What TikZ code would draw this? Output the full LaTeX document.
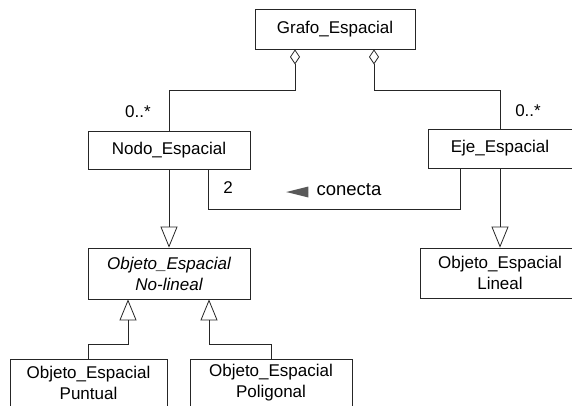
\documentclass[tikz,border=0pt]{standalone}
\usepackage{fontspec}
\setmainfont{Liberation Sans}
\usetikzlibrary{arrows.meta}
\tikzset{
  clase/.style={draw=black!85, line width=0.8pt, inner sep=0pt, align=center,
    font=\fontsize{17}{21}\selectfont},
  gen/.style={draw=black!85, line width=0.8pt, -{Triangle[open, length=21pt, width=17pt]}},
  agg/.style={draw=black!85, line width=0.8pt, -{Diamond[open, length=15pt, width=10pt]}},
  asoc/.style={draw=black!85, line width=0.8pt},
  etiq/.style={inner sep=0pt, font=\fontsize{17}{21}\selectfont}
}
\begin{document}
\begin{tikzpicture}[x=1pt, y=-1pt]
 \useasboundingbox (0,0) rectangle (572,405);
 \node[clase, minimum width=160pt, minimum height=40pt] (grafo) at (335,29) {Grafo\_Espacial};
 \node[clase, minimum width=162pt, minimum height=38pt] (nodo) at (169,150) {Nodo\_Espacial};
 \node[clase, minimum width=144pt, minimum height=39pt] (eje) at (500,148.5) {Eje\_Espacial};
 \node[clase, minimum width=162pt, minimum height=51pt] (nolineal) at (169,273.5) {\itshape Objeto\_Espacial\\ \itshape No-lineal};
 \node[clase, minimum width=160pt, minimum height=50pt] (lineal) at (500,273) {Objeto\_Espacial\\Lineal};
 \node[clase, minimum width=157pt, minimum height=47pt] (puntual) at (88.5,382.5) {Objeto\_Espacial\\Puntual};
 \node[clase, minimum width=162pt, minimum height=47pt] (poligonal) at (271,382.5) {Objeto\_Espacial\\Poligonal};
 % agregaciones
 \draw[agg] (nodo.north) |- ([shift={(-40,41)}]grafo.south) -- ([shift={(-40,0)}]grafo.south);
 \draw[agg] (eje.north) |- ([shift={(39,41)}]grafo.south) -- ([shift={(39,0)}]grafo.south);
 \node[etiq] (multnodo) at (138,112) {0..*};
 \node[etiq] (multeje) at (528,111) {0..*};
 % asociacion
 \draw[asoc] ([shift={(39,0)}]nodo.south) -- ++(0,40) -| ([shift={(-40,0)}]eje.south);
 \node[etiq] (dos) at (228,188) {2};
 \node[etiq, font=\fontsize{18.5}{21}\selectfont] (conecta) at (349,190) {conecta};
 \fill[black!65] ([shift={(-8,2)}]conecta.west) -- ++(-22,0) -- ++(22,-5.5) -- cycle;
 \fill[black!65] ([shift={(-8,2)}]conecta.west) -- ++(-22,0) -- ++(22,5.5) -- cycle;
 % herencia
 \draw[gen] (nodo) -- (nolineal);
 \draw[gen] (eje) -- (lineal);
 \draw[gen] (puntual.north) |- ([shift={(-41,45)}]nolineal.south) -- ([shift={(-41,0)}]nolineal.south);
 \draw[gen] (poligonal.north) |- ([shift={(40,45)}]nolineal.south) -- ([shift={(40,0)}]nolineal.south);
\end{tikzpicture}
\end{document}
